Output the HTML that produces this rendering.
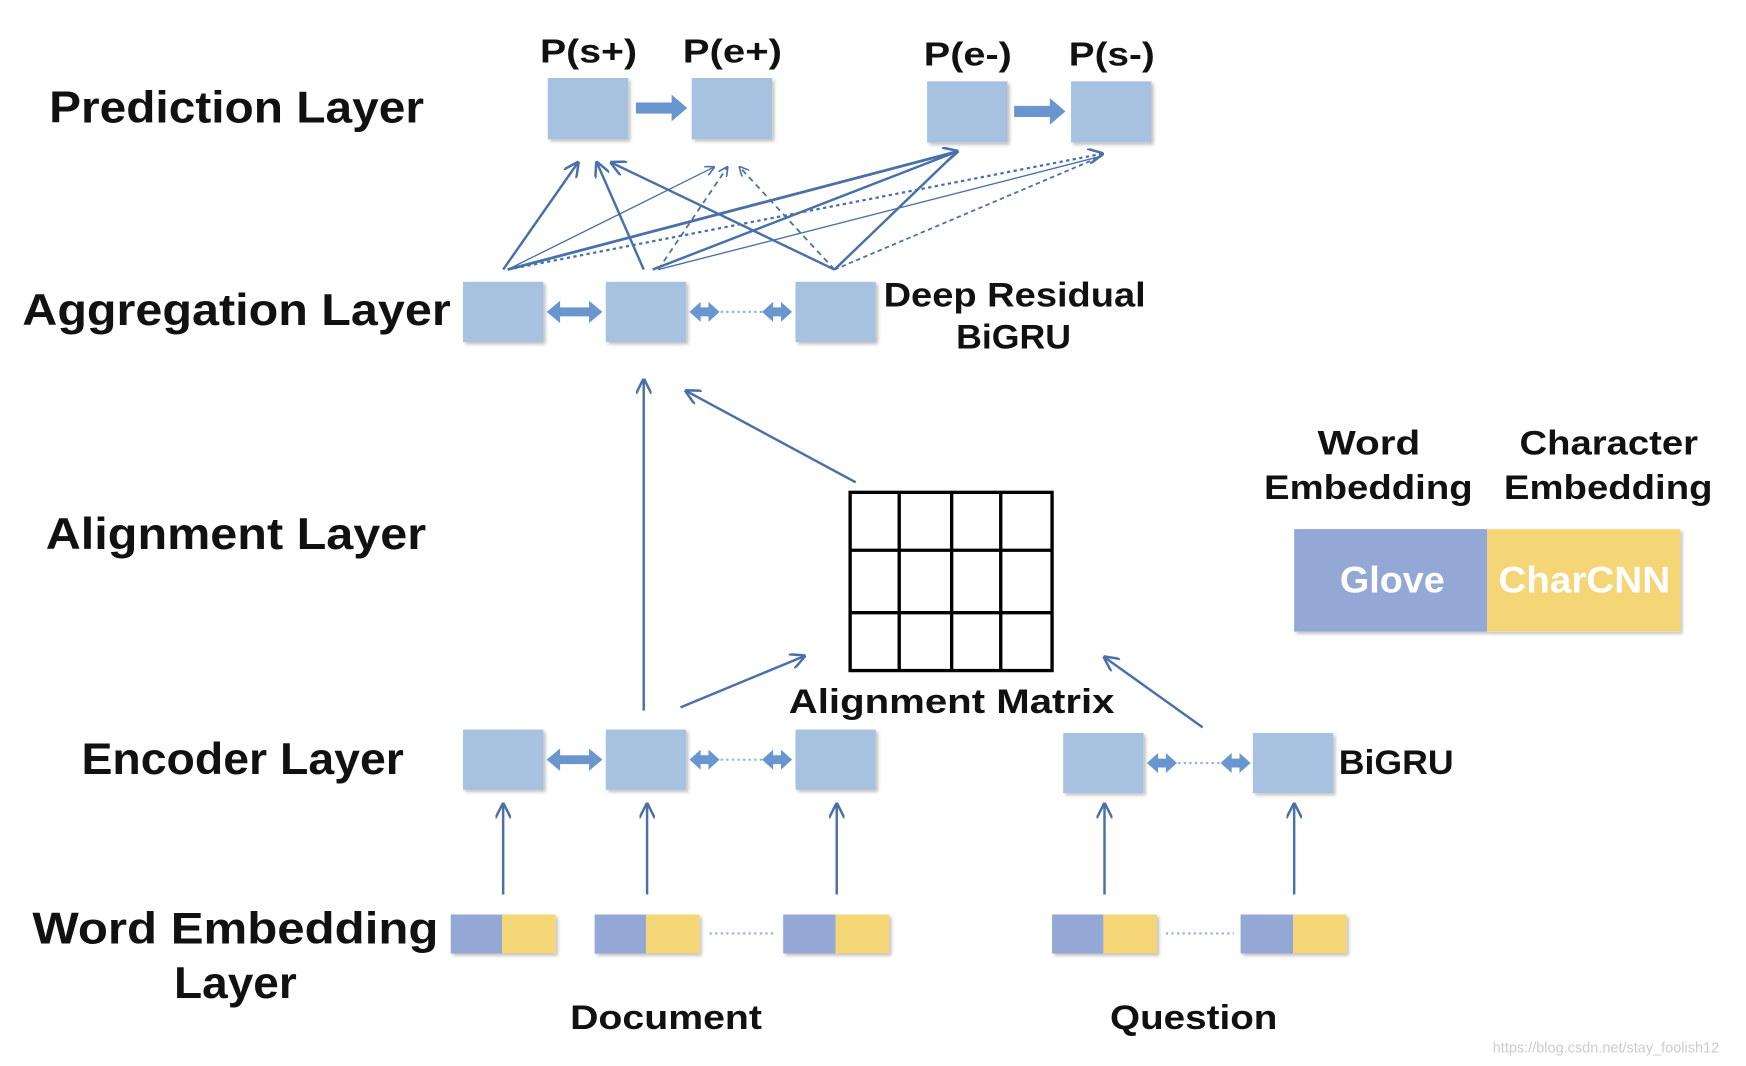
<!DOCTYPE html>
<html><head><meta charset="utf-8"><style>
html,body{margin:0;padding:0;background:#fff;width:1746px;height:1066px;overflow:hidden}
svg{display:block}
text{font-family:"Liberation Sans","DejaVu Sans",sans-serif;font-weight:bold;fill:#111}
</style></head><body>
<svg width="1746" height="1066" viewBox="0 0 1565 957" preserveAspectRatio="none" xmlns="http://www.w3.org/2000/svg">
<defs>
<marker id="b" viewBox="0 0 10 10" refX="9" refY="5" markerWidth="14" markerHeight="14" orient="auto" markerUnits="userSpaceOnUse"><path d="M0,0 L10,5 L0,10" fill="none" stroke="#4a70a8" stroke-width="1.6"/></marker>
<marker id="c" viewBox="0 0 10 10" refX="9" refY="5" markerWidth="9" markerHeight="9" orient="auto" markerUnits="userSpaceOnUse"><path d="M0,0 L10,5 L0,10" fill="none" stroke="#4a70a8" stroke-width="1.6"/></marker>
<filter id="s" x="-10%" y="-10%" width="130%" height="130%"><feDropShadow dx="2" dy="2" stdDeviation="1.5" flood-color="#000" flood-opacity="0.25"/></filter>
<g id="dbl"><path d="M0,0 l12,-10 v6 h26 v-6 l12,10 l-12,10 v-6 h-26 v6z" fill="#6a96d0"/></g>
<g id="sdbl"><path d="M0,0 l10,-9 v5 h7 v-5 l10,9 l-10,9 v-5 h-7 v5z" fill="#6a96d0"/></g>
<g id="rt"><path d="M0,-5 h32 v-7 l14,12 l-14,12 v-7 h-32z" fill="#6a96d0"/></g>
</defs>

<g font-size="40">
<text x="44" y="110" textLength="336" lengthAdjust="spacingAndGlyphs">Prediction Layer</text>
<text x="20" y="292" textLength="384" lengthAdjust="spacingAndGlyphs">Aggregation Layer</text>
<text x="41" y="493" textLength="341" lengthAdjust="spacingAndGlyphs">Alignment Layer</text>
<text x="73" y="695" textLength="289" lengthAdjust="spacingAndGlyphs">Encoder Layer</text>
<text x="29" y="847" textLength="364" lengthAdjust="spacingAndGlyphs">Word Embedding</text>
<text x="156" y="896" textLength="110" lengthAdjust="spacingAndGlyphs">Layer</text>
</g>

<g font-size="30">
<text x="484" y="56" textLength="87" lengthAdjust="spacingAndGlyphs">P(s+)</text>
<text x="612" y="56" textLength="89" lengthAdjust="spacingAndGlyphs">P(e+)</text>
<text x="828" y="59" textLength="79" lengthAdjust="spacingAndGlyphs">P(e-)</text>
<text x="958" y="59" textLength="77" lengthAdjust="spacingAndGlyphs">P(s-)</text>
</g>
<g fill="#a6c2e0" filter="url(#s)">
<rect x="491" y="70" width="72" height="55"/><rect x="620" y="70" width="72" height="55"/>
<rect x="831" y="73" width="72" height="55"/><rect x="960" y="73" width="72" height="55"/>
</g>
<use href="#rt" x="570" y="97"/><use href="#rt" x="909" y="100"/>

<g stroke="#4a70a8" fill="none">
<line x1="451" y1="242" x2="518" y2="146" stroke-width="2.2" marker-end="url(#b)"/>
<line x1="577" y1="242" x2="535" y2="146" stroke-width="2.2" marker-end="url(#b)"/>
<line x1="748" y1="242" x2="548" y2="146" stroke-width="2.2" marker-end="url(#b)"/>
<line x1="455" y1="242" x2="858" y2="136" stroke-width="2.5" marker-end="url(#b)"/>
<line x1="585" y1="242" x2="858" y2="136" stroke-width="2.2"/>
<line x1="748" y1="242" x2="858" y2="136" stroke-width="2.2"/>
<line x1="455" y1="242" x2="640" y2="150" stroke-width="1.2" marker-end="url(#c)"/>
<line x1="590" y1="242" x2="652" y2="150" stroke-width="1.6" stroke-dasharray="5,4" marker-end="url(#c)"/>
<line x1="748" y1="242" x2="663" y2="150" stroke-width="1.6" stroke-dasharray="5,4" marker-end="url(#c)"/>
<line x1="455" y1="242" x2="988" y2="138" stroke-width="2" stroke-dasharray="3,3" marker-end="url(#b)"/>
<line x1="590" y1="242" x2="988" y2="140" stroke-width="1.2"/>
<line x1="748" y1="242" x2="988" y2="140" stroke-width="1.6" stroke-dasharray="4,3"/>
</g>

<g fill="#a6c2e0" filter="url(#s)">
<rect x="415" y="253" width="72" height="54"/><rect x="543" y="253" width="72" height="54"/><rect x="713" y="253" width="72" height="54"/>
</g>
<use href="#dbl" x="490" y="280"/><use href="#sdbl" x="618" y="280"/><use href="#sdbl" x="683" y="280"/>
<line x1="646" y1="280" x2="683" y2="280" stroke="#8fb0dc" stroke-width="2" stroke-dasharray="2,3"/>
<g font-size="31">
<text x="792" y="275" textLength="235" lengthAdjust="spacingAndGlyphs">Deep Residual</text>
<text x="857" y="313" textLength="103" lengthAdjust="spacingAndGlyphs">BiGRU</text>
</g>

<g stroke="#4a70a8" stroke-width="2.2" fill="none">
<line x1="577" y1="638" x2="577" y2="341" marker-end="url(#b)"/>
<line x1="767" y1="433" x2="615" y2="351" marker-end="url(#b)"/>
<line x1="610" y1="635" x2="721" y2="589" marker-end="url(#b)"/>
<line x1="1078" y1="653" x2="990" y2="590" marker-end="url(#b)"/>
</g>
<g stroke="#000" stroke-width="3" fill="none">
<rect x="762" y="442" width="181" height="160"/>
<line x1="806" y1="442" x2="806" y2="602"/><line x1="853" y1="442" x2="853" y2="602"/><line x1="897" y1="442" x2="897" y2="602"/>
<line x1="762" y1="494" x2="943" y2="494"/><line x1="762" y1="550" x2="943" y2="550"/>
</g>
<text x="707" y="640" font-size="31" textLength="292" lengthAdjust="spacingAndGlyphs">Alignment Matrix</text>

<g font-size="31">
<text x="1181" y="408" textLength="92" lengthAdjust="spacingAndGlyphs">Word</text>
<text x="1133" y="448" textLength="187" lengthAdjust="spacingAndGlyphs">Embedding</text>
<text x="1362" y="408" textLength="160" lengthAdjust="spacingAndGlyphs">Character</text>
<text x="1348" y="448" textLength="187" lengthAdjust="spacingAndGlyphs">Embedding</text>
</g>
<g filter="url(#s)"><rect x="1160" y="475" width="173" height="92" fill="#94a8d6"/><rect x="1333" y="475" width="173" height="92" fill="#f4d677"/></g>
<text x="1201" y="532" font-size="33" style="fill:#fff" textLength="94" lengthAdjust="spacingAndGlyphs">Glove</text>
<text x="1343" y="532" font-size="33" style="fill:#fff" textLength="154" lengthAdjust="spacingAndGlyphs">CharCNN</text>

<g fill="#a6c2e0" filter="url(#s)">
<rect x="415" y="655" width="72" height="54"/><rect x="543" y="655" width="72" height="54"/><rect x="713" y="655" width="72" height="54"/>
<rect x="953" y="658" width="72" height="54"/><rect x="1123" y="658" width="72" height="54"/>
</g>
<use href="#dbl" x="490" y="682"/><use href="#sdbl" x="618" y="682"/><use href="#sdbl" x="683" y="682"/>
<line x1="646" y1="682" x2="683" y2="682" stroke="#8fb0dc" stroke-width="2" stroke-dasharray="2,3"/>
<use href="#sdbl" x="1028" y="685"/><use href="#sdbl" x="1094" y="685"/>
<line x1="1056" y1="685" x2="1094" y2="685" stroke="#8fb0dc" stroke-width="2" stroke-dasharray="2,3"/>
<text x="1200" y="695" font-size="31" textLength="103" lengthAdjust="spacingAndGlyphs">BiGRU</text>

<g stroke="#4a70a8" stroke-width="2.2" fill="none">
<line x1="451" y1="803" x2="451" y2="722" marker-end="url(#b)"/>
<line x1="580" y1="803" x2="580" y2="722" marker-end="url(#b)"/>
<line x1="750" y1="803" x2="750" y2="722" marker-end="url(#b)"/>
<line x1="990" y1="803" x2="990" y2="722" marker-end="url(#b)"/>
<line x1="1160" y1="803" x2="1160" y2="722" marker-end="url(#b)"/>
</g>

<g filter="url(#s)">
<rect x="404" y="821" width="46" height="35" fill="#94a8d6"/><rect x="450" y="821" width="48" height="35" fill="#f4d677"/>
<rect x="533" y="821" width="46" height="35" fill="#94a8d6"/><rect x="579" y="821" width="48" height="35" fill="#f4d677"/>
<rect x="702" y="821" width="47" height="35" fill="#94a8d6"/><rect x="749" y="821" width="48" height="35" fill="#f4d677"/>
<rect x="943" y="821" width="46" height="35" fill="#94a8d6"/><rect x="989" y="821" width="48" height="35" fill="#f4d677"/>
<rect x="1112" y="821" width="47" height="35" fill="#94a8d6"/><rect x="1159" y="821" width="48" height="35" fill="#f4d677"/>
</g>
<g stroke="#8fb0dc" stroke-width="2" stroke-dasharray="2,3">
<line x1="636" y1="838" x2="696" y2="838"/><line x1="1045" y1="838" x2="1106" y2="838"/>
</g>
<text x="511" y="924" font-size="31" textLength="172" lengthAdjust="spacingAndGlyphs">Document</text>
<text x="995" y="924" font-size="31" textLength="150" lengthAdjust="spacingAndGlyphs">Question</text>
<text x="1338" y="945" font-size="13" style="fill:#ccc;font-weight:normal">https://blog.csdn.net/stay_foolish12</text>
</svg>
</body></html>
